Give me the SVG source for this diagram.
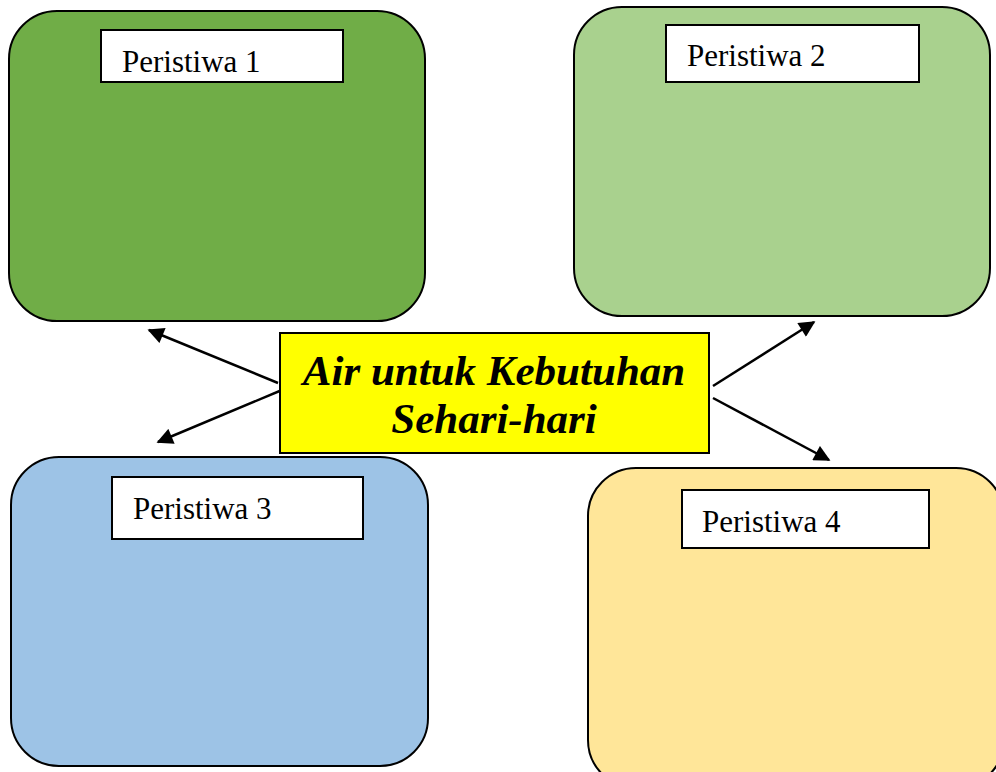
<svg xmlns="http://www.w3.org/2000/svg" width="996" height="772" viewBox="0 0 996 772">
<style>
.card{stroke:#000;stroke-width:2}
.lab{fill:#fff;stroke:#000;stroke-width:2}
.lt{font-family:"Liberation Serif","Times New Roman",serif;font-size:31px;fill:#000}
.ct{font-family:"Liberation Serif","Times New Roman",serif;font-size:43px;font-weight:bold;font-style:italic;fill:#000}
.arr{stroke:#000;stroke-width:2.5;fill:none;marker-end:url(#ah)}
</style>
<defs>
<marker id="ah" viewBox="0 0 10 10" refX="9" refY="5" markerWidth="7" markerHeight="6.5" orient="auto" markerUnits="strokeWidth">
<path d="M0,0 L10,5 L0,10 z" fill="#000"/>
</marker>
</defs>
<rect width="996" height="772" fill="#fff"/>
<g id="peristiwa1">
<rect class="card" x="9" y="11" width="416" height="310" rx="48" fill="#70AD47"/>
<rect class="lab" x="101" y="30" width="242" height="52"/>
<text class="lt" x="122" y="72">Peristiwa 1</text>
</g>
<g id="peristiwa2">
<rect class="card" x="574" y="7" width="416" height="309" rx="48" fill="#A9D18E"/>
<rect class="lab" x="666" y="25" width="253" height="57"/>
<text class="lt" x="687" y="66">Peristiwa 2</text>
</g>
<g id="peristiwa3">
<rect class="card" x="11" y="457" width="417" height="309" rx="48" fill="#9DC3E6"/>
<rect class="lab" x="112" y="477" width="251" height="62"/>
<text class="lt" x="133" y="519">Peristiwa 3</text>
</g>
<g id="peristiwa4">
<rect class="card" x="588" y="468" width="416" height="320" rx="48" fill="#FFE699"/>
<rect class="lab" x="682" y="490" width="247" height="58"/>
<text class="lt" x="702" y="532">Peristiwa 4</text>
</g>
<g id="connectors">
<line class="arr" x1="278" y1="383" x2="149" y2="330"/>
<line class="arr" x1="282" y1="390" x2="158" y2="442"/>
<line class="arr" x1="713" y1="386" x2="814" y2="322"/>
<line class="arr" x1="713" y1="398" x2="829" y2="460"/>
</g>
<g id="center">
<rect x="280" y="333" width="429" height="120" fill="#FFFF00" stroke="#000" stroke-width="2"/>
<text class="ct" x="494" y="385" text-anchor="middle">Air untuk Kebutuhan</text>
<text class="ct" x="494" y="433" text-anchor="middle">Sehari-hari</text>
</g>
</svg>
